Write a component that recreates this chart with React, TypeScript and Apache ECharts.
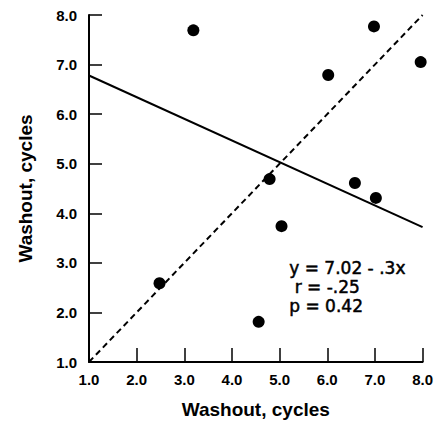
import React, { useEffect, useRef } from "react";
import * as echarts from "echarts";

const xValues = [2.48, 3.19, 4.56, 4.79, 5.04, 6.02, 6.58, 6.98, 7.02, 7.96];
const yValues = [2.59, 7.69, 1.81, 4.69, 3.74, 6.79, 4.61, 7.77, 4.31, 7.05];
const regressionLine = [[1.0, 6.78], [8.0, 3.72]];
const identityLine = [[1.0, 1.0], [8.0, 8.0]];
const annotationLines = ["y = 7.02 - .3x", " r = -.25", "p = 0.42"];
const axisName = "Washout, cycles";

export default function App() {
  const ref = useRef<HTMLDivElement>(null);
  useEffect(() => {
    if (!ref.current) return;
    const chart = echarts.init(ref.current, null, { renderer: "svg" });
    const tickLabel = {
      color: "#000",
      fontFamily: "Liberation Sans, Arial, sans-serif",
      fontWeight: "bold" as const,
      fontSize: 15,
      formatter: (v: number) => v.toFixed(1),
    };
    const nameStyle = {
      color: "#000",
      fontFamily: "Liberation Sans, Arial, sans-serif",
      fontWeight: "bold" as const,
      fontSize: 19,
    };
    chart.setOption({
      animation: false,
      backgroundColor: "#fff",
      grid: { left: 89, right: 11, top: 15, bottom: 56 },
      xAxis: {
        type: "value",
        min: 1,
        max: 8,
        interval: 1,
        name: axisName,
        nameLocation: "middle",
        nameGap: 38,
        nameTextStyle: nameStyle,
        axisLine: { show: true, onZero: false, lineStyle: { color: "#000", width: 2 } },
        axisTick: { show: true, inside: true, length: 14, lineStyle: { color: "#000", width: 1.5 } },
        axisLabel: { ...tickLabel, margin: 10 },
        splitLine: { show: false },
      },
      yAxis: {
        type: "value",
        min: 1,
        max: 8,
        interval: 1,
        name: axisName,
        nameLocation: "middle",
        nameGap: 54,
        nameTextStyle: nameStyle,
        axisLine: { show: true, onZero: false, lineStyle: { color: "#000", width: 2 } },
        axisTick: { show: true, inside: true, length: 13, lineStyle: { color: "#000", width: 1.5 } },
        axisLabel: { ...tickLabel, margin: 12 },
        splitLine: { show: false },
      },
      series: [
        {
          type: "line",
          data: identityLine,
          symbol: "none",
          lineStyle: { color: "#000", width: 2, type: [6, 4] },
          silent: true,
        },
        {
          type: "line",
          data: regressionLine,
          symbol: "none",
          lineStyle: { color: "#000", width: 2 },
          silent: true,
        },
        {
          type: "scatter",
          data: xValues.map((x, i) => [x, yValues[i]]),
          symbol: "circle",
          symbolSize: 12,
          itemStyle: { color: "#000", opacity: 1 },
        },
      ],
      graphic: [
        {
          type: "text",
          left: 289,
          top: 258,
          style: {
            text: annotationLines.join("\n"),
            fill: "#000",
            stroke: "#000",
            lineWidth: 0.5,
            fontFamily: "DejaVu Sans, sans-serif",
            fontSize: 17,
            lineHeight: 19,
          },
        },
      ],
    });
    return () => chart.dispose();
  }, []);
  return <div ref={ref} style={{ width: 436, height: 424, position: "absolute", left: 0, top: 0 }} />;
}
